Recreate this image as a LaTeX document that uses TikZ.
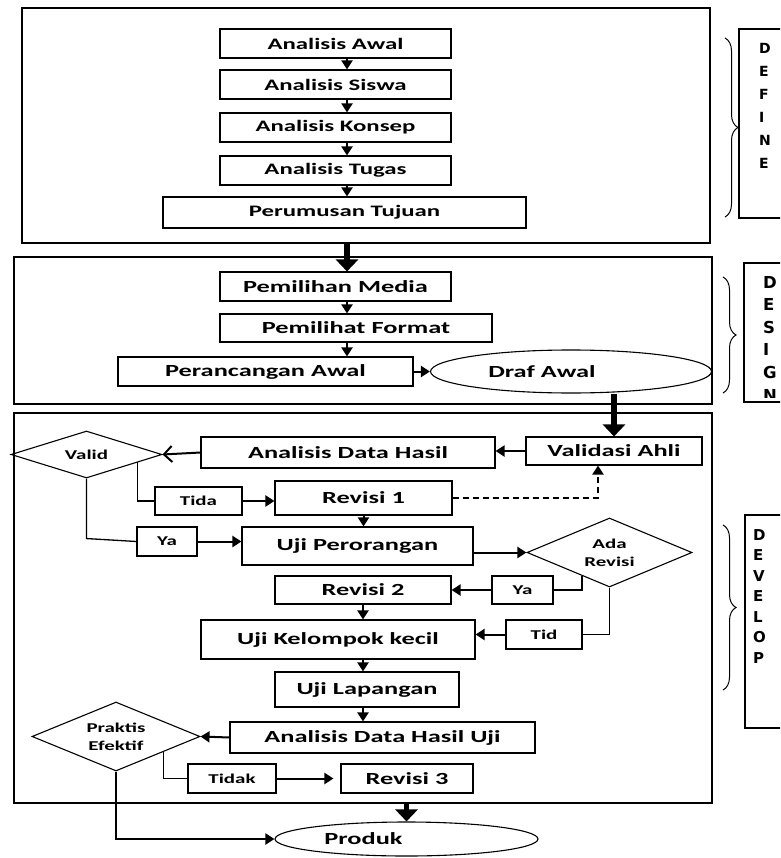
\documentclass[tikz,border=0pt]{standalone}
\usepackage{fontspec}
\setmainfont{Carlito}[FakeStretch=1.55]
\newfontfamily\phasefont{DejaVu Sans}
\usetikzlibrary{shapes.geometric,arrows.meta,decorations.pathreplacing,calc}

\begin{document}
\begin{tikzpicture}[x=1pt, y=-1pt,
box/.style = {draw, rectangle,
	line width=1.1pt,
	inner sep=0pt,
font=\fontsize{17}{20}\selectfont\bfseries},
defbox/.style = {box, font=\fontsize{16}{19}\selectfont\bfseries},
tag/.style = {box, font=\fontsize{13.5}{16}\selectfont\bfseries},
choice/.style = {draw, diamond, line width=1.1pt, inner sep=0pt, align=center,
	font=\fontsize{13.5}{18}\selectfont\bfseries},
oval/.style = {draw, ellipse, line width=1.1pt, inner sep=0pt,
	font=\fontsize{17}{20}\selectfont\bfseries},
stage/.style = {draw, rectangle, inner sep=0pt},
arr/.style = {line width=2pt, -{Triangle[length=9pt,width=11pt]}},
bigarr/.style = {line width=5.5pt, -{Triangle[length=12pt,width=22pt]}},
link/.style = {line width=1.3pt},
curly/.style = {decorate, decoration={brace, amplitude=13pt}, line width=1pt},
letters/.style = {anchor=base west, inner sep=0pt}]

\useasboundingbox (0,0) rectangle (780,858);
\clip (0,0) rectangle (780,858);
\coordinate (axis) at (347,0);

% define
\node (defstage) at (366,125.5) [stage, line width=1.3pt, minimum width=688pt, minimum height=235pt] {};
\node (awal) at (335.5,43.5) [defbox, minimum width=231pt, minimum height=29pt] {Analisis Awal};
\node (siswa) at (335.5,84.5) [defbox, minimum width=231pt, minimum height=29pt] {Analisis Siswa};
\node (konsep) at (335.5,127.5) [defbox, minimum width=231pt, minimum height=29pt] {Analisis Konsep};
\node (tugas) at (335.5,170.5) [defbox, minimum width=231pt, minimum height=29pt] {Analisis Tugas};
\node (tujuan) at (344.5,212.5) [defbox, minimum width=363pt, minimum height=31pt] {Perumusan Tujuan};

\foreach \a/\b in {awal/siswa, siswa/konsep, konsep/tugas, tugas/tujuan}
	\draw [arr] (\a.south -| axis) -- (\b.north -| axis);

% design
\node (desstage) at (363,330.5) [stage, line width=2pt, minimum width=698pt, minimum height=147pt] {};
\node (media) at (335.5,286.5) [box, minimum width=231pt, minimum height=29pt] {Pemilihan Media};
\node (format) at (356,328) [box, minimum width=272pt, minimum height=28pt] {Pemilihat Format};
\node (rancang) at (265.5,371.5) [box, minimum width=295pt, minimum height=29pt] {Perancangan Awal};
\node (draf) at (571,371.5) [oval, minimum width=281pt, minimum height=43pt] {Draf Awal\hspace*{58pt}};

\draw [bigarr] (defstage.south -| axis) -- (media.north -| axis);
\draw [arr] (media.south -| axis) -- (format.north -| axis);
\draw [arr] (format.south -| axis) -- (rancang.north -| axis);
\draw [arr] (rancang.east) -- (draf.west);

% develop
\node (devstage) at (363,608) [stage, line width=2pt, minimum width=698pt, minimum height=390pt] {};
\node (ahli) at (614,451) [box, minimum width=176pt, minimum height=28pt] {Validasi Ahli};
\node (adh) at (348,452.5) [box, minimum width=294pt, minimum height=31pt] {Analisis Data Hasil};
\node (valid) at (86.5,454.5) [choice, shape aspect=3.2, minimum width=151pt, minimum height=47pt] {Valid};
\node (tida) at (198.5,501) [tag, minimum width=87pt, minimum height=28pt] {Tida};
\node (rev1) at (363.5,498) [box, minimum width=177pt, minimum height=34pt] {Revisi 1};
\node (ya1) at (167,541.5) [tag, minimum width=60pt, minimum height=29pt] {Ya};
\node (orang) at (357.5,546) [box, minimum width=231pt, minimum height=38pt] {Uji Perorangan};
\node (adarev) at (609.5,552.5) [choice, shape aspect=2.4, minimum width=165pt, minimum height=69pt] {Ada\\Revisi};
\node (rev2) at (363,590) [box, minimum width=176pt, minimum height=28pt] {Revisi 2};
\node (ya2) at (522.5,590) [tag, minimum width=61pt, minimum height=28pt] {Ya};
\node (tid) at (544,634.5) [tag, minimum width=76pt, minimum height=29pt] {Tid};
\node (kelompok) at (338,639.5) [box, minimum width=274pt, minimum height=39pt] {Uji Kelompok kecil};
\node (lapangan) at (367,689.5) [box, minimum width=184pt, minimum height=35pt] {Uji Lapangan};
\node (adhu) at (382.5,737.5) [box, minimum width=305pt, minimum height=31pt] {Analisis Data Hasil Uji};
\node (praktis) at (116,736.5) [choice, shape aspect=2.43, minimum width=168pt, minimum height=69pt] {Praktis\\Efektif};
\node (tidak) at (232,778.5) [tag, minimum width=88pt, minimum height=29pt] {Tidak};
\node (rev3) at (407,778.5) [box, minimum width=132pt, minimum height=29pt] {Revisi 3};
\node (produk) at (406.5,839) [oval, minimum width=263pt, minimum height=34pt] {Produk\hspace*{86pt}};

\draw [bigarr] (draf.south -| ahli) -- (ahli.north);
\draw [arr] (ahli.west) -- (ahli.west -| adh.east);
\draw [line width=2pt, -{Straight Barb[length=8pt,width=16pt]}] (adh.west) -- (valid.east);
\draw [link] ($(valid.east)!0.33!(valid.south)$) |- (tida.west);
\draw [arr] (tida.east) -- (tida.east -| rev1.west);
\draw [arr, dash pattern=on 6pt off 4pt] (rev1.east) -| ([xshift=-16pt]ahli.south);
\draw [arr] (rev1.south) -- (orang.north -| rev1.south);
\draw [link] (valid.south) -- ++(0,60) -- (ya1.west);
\draw [arr] (ya1.east) -- (ya1.east -| orang.west);
\draw [arr] (adarev.west -| orang.east) -- (adarev.west);
\draw [link] ($(adarev.south)!0.33!(adarev.west)$) |- (ya2.east);
\draw [arr] (ya2.west) -- (ya2.west -| rev2.east);
\draw [link] (adarev.south) |- (tid.east);
\draw [arr] (tid.west) -- (tid.west -| kelompok.east);
\draw [arr] (rev2.south) -- (kelompok.north -| rev2.south);
\draw [arr] (kelompok.south -| rev2) -- (lapangan.north -| rev2);
\draw [arr] (lapangan.south -| rev2) -- (adhu.north -| rev2);
\draw [arr] (adhu.west) -- (praktis.east);
\draw [link] ($(praktis.east)!0.44!(praktis.south)$) |- (tidak.west);
\draw [arr, shorten >=7pt] (tidak.east) -- (tidak.east -| rev3.west);
\draw [bigarr] (devstage.south -| produk) -- (produk.north);
\draw [arr] (praktis.south) |- (produk.west);

% phase names
\draw [curly] (725,38) -- (725,217);
\draw [line width=1.1pt] (739,29) rectangle (800,218);
\foreach \l [count=\i from 0] in {D,E,F,I,N,E}
	\node (def\i) at (759,54+23*\i) [letters] {\phasefont\fontsize{14}{16}\selectfont\bfseries\l};

\draw [curly] (723,277) -- (723,393);
\draw [line width=1.1pt] (744,263) rectangle (800,402);
\begin{scope}
\clip (744,263) rectangle (800,397);
\foreach \l [count=\i from 0] in {D,E,S,I,G,N}
	\node (des\i) at (763,288+22.6*\i) [letters] {\phasefont\fontsize{16.5}{18}\selectfont\bfseries\l};
\end{scope}

\draw [curly] (723,525) -- (723,690);
\draw [line width=1.1pt] (745,515) rectangle (800,728);
\foreach \l [count=\i from 0] in {D,E,V,E,L,O,P}
	\node (dev\i) at (753,540+20.5*\i) [letters] {\phasefont\fontsize{15}{17}\selectfont\bfseries\l};
\end{tikzpicture}
\end{document}
